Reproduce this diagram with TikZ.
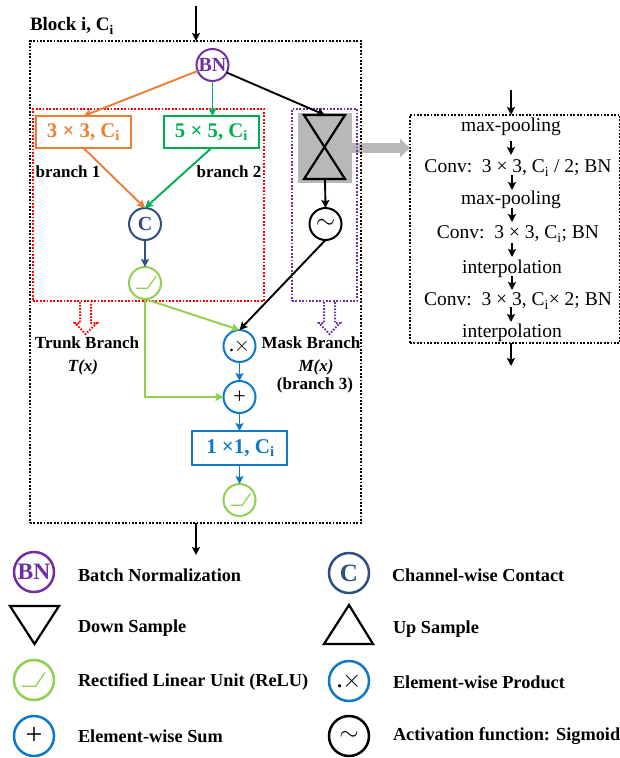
\documentclass[tikz,border=0pt]{standalone}
\usepackage{fontspec}
\setmainfont{Liberation Serif}
\usetikzlibrary{arrows.meta}
\definecolor{cOrange}{HTML}{ED7D31}
\definecolor{cGreen}{HTML}{00B050}
\definecolor{cPurple}{HTML}{7030A0}
\definecolor{cNavy}{HTML}{2F5080}
\definecolor{cLime}{HTML}{8FD04F}
\definecolor{cBlue}{HTML}{0F78C8}
\definecolor{cGray}{HTML}{B8B8B8}
\newcommand{\fs}[1]{\fontsize{#1}{#1}\selectfont}
\newcommand{\Ci}{C\textsubscript{i}}
\tikzset{
  x=1pt,y=-1pt,
  every node/.style={inner sep=0pt,outer sep=0pt},
  ar/.style={-{Stealth[length=8pt,width=8pt,inset=1.5pt]},line width=1.9pt},
  dotbox/.style={draw,line width=2.2pt,dash pattern=on 1.8pt off 1.6pt},
  circ/.style={circle,draw=#1,line width=2pt,minimum size=32pt,text=#1},
  lcirc/.style={circle,draw=#1,line width=2.5pt,minimum size=40pt,text=#1},
  kbox/.style={draw=#1,text=#1,line width=2pt,minimum width=95pt,minimum height=32pt,font=\bfseries\fs{20.8}},
  lab/.style={font=\bfseries\fs{17}},
  leg/.style={font=\bfseries\fs{18.3},anchor=west},
  cnv/.style={font=\fs{19.5}},
  tri/.style={draw=black,line width=2.2pt,line join=miter},
  hollow/.style={draw=#1,line width=2pt,dash pattern=on 1.6pt off 1.5pt}
}
\begin{document}
\begin{tikzpicture}
\useasboundingbox (0,0) rectangle (620,758);
% grey backing and big arrow
\node[fill=cGray,minimum width=54pt,minimum height=70pt] (grey) at (325,148) {};
\node[dotbox,draw=black,minimum width=210pt,minimum height=228pt] (rb) at (515,229) {};
\draw[cGray,line width=10pt,-{Triangle[length=10pt,width=18pt]}] (grey.east) -- (grey.east -| rb.west);
% frames
\node[dotbox,draw=black,minimum width=331pt,minimum height=482pt] (outer) at (195.5,282) {};
\node[dotbox,draw=red,minimum width=231pt,minimum height=192pt] (trunk) at (148.5,205) {};
\node[dotbox,draw=cPurple,line width=1.7pt,minimum width=65pt,minimum height=192pt] (mask) at (324.5,205) {};
% hourglass
\coordinate (hgT) at (325,115);
\coordinate (hgB) at (325,179);
\draw[tri] (304,115) -- (345,115) -- (304,179) -- (345,179) -- cycle;
% nodes
\node[circ=cPurple,font=\bfseries\fs{20}] (bn) at (212.5,65) {BN};
\node[kbox=cOrange] (k3) at (83.5,132) {3 × 3, \Ci};
\node[kbox=cGreen] (k5) at (211.5,132) {5 × 5, \Ci};
\node[circ=cNavy,font=\bfseries\fs{20}] (cc) at (145,224) {C};
\node[circ=cLime] (r1) at (145,283) {};
\node[circ=black,font=\fs{24}] (sg) at (325.5,224) {$\sim$};
\node[circ=cBlue,text=black,font=\fs{22}] (pr) at (239.5,346) {.\kern-0.5pt$\times$};
\node[circ=cBlue,text=black,font=\fs{22}] (su) at (239.5,397) {+};
\node[kbox=cBlue,minimum height=34pt,font=\bfseries\fs{21}] (k1) at (239.5,448) {\kern2pt 1 ×1, \Ci};
\node[circ=cLime] (r2) at (239.5,500) {};
\draw[cLime,line width=1.2pt] ([shift={(-9,5.3)}]r1.center) -- ([shift={(2.7,5.3)}]r1.center) -- ([shift={(11,-6.7)}]r1.center);
\draw[cLime,line width=1.2pt] ([shift={(-9,5.3)}]r2.center) -- ([shift={(2.7,5.3)}]r2.center) -- ([shift={(11,-6.7)}]r2.center);
% connectors
\coordinate (in) at (196,6);
\coordinate (out) at (196,555);
\draw[ar,black] (in) -- (outer.north -| in);
\draw[ar,black] (outer.south -| out) -- (out);
\draw[ar,cOrange] (bn.202) -- (k3.north);
\draw[ar,cGreen] (bn.south) -- (bn.south |- k5.north);
\draw[ar,black] (bn.-28) -- (hgT);
\draw[ar,cOrange] (k3.south) -- (cc.north);
\draw[ar,cGreen] (k5.south) -- (cc.north);
\draw[ar,cNavy] (cc.south) -- (r1.north);
\draw[ar,black] (hgB) -- (sg.north);
\draw[ar,black] (sg.south) -- (pr.north);
\draw[ar,cLime] (r1.south) -- (pr.north);
\draw[ar,cLime] (r1.south) |- (su.west);
\draw[ar,cBlue] (pr.south) -- (su.north);
\draw[ar,cBlue] (su.south) -- (k1.north);
\draw[ar,cBlue] (k1.south) -- (r2.north);
% hollow arrows
\draw[hollow=red] (80,302) -- (80,323) -- (75,323) -- (85.5,334) -- (97,323) -- (91,323) -- (91,302);
\draw[hollow=cPurple] (324,302) -- (324,323) -- (319,323) -- (329.5,334) -- (340,323) -- (335,323) -- (335,302);
% labels
\node[font=\bfseries\fs{19},anchor=west] (blk) at (30,26) {Block i, \Ci};
\node[lab] (b1) at (68,172) {branch 1};
\node[lab] (b2) at (229,172) {branch 2};
\node[lab] (tb) at (87,343) {Trunk Branch};
\node[lab,font=\bfseries\itshape\fs{17}] (tx) at (83,367) {T(x)};
\node[lab] (mb) at (311,343) {Mask Branch};
\node[lab,font=\bfseries\itshape\fs{17}] (mx) at (316,367) {M(x)};
\node[lab] (b3) at (315,385) {(branch 3)};
% right panel
\node[cnv] (t1) at (511,127) {max-pooling};
\node[cnv] (t2) at (518,168) {Conv:\, 3 × 3, \Ci{} / 2; BN};
\node[cnv] (t3) at (511,200) {max-pooling};
\node[cnv] (t4) at (518,234) {Conv:\, 3 × 3, \Ci; BN};
\node[cnv] (t5) at (512,269) {interpolation};
\node[cnv] (t6) at (518,301) {Conv:\, 3 × 3, \Ci× 2; BN};
\node[cnv] (t7) at (512,333) {interpolation};
\coordinate (a0) at (511,90);
\coordinate (a8) at (511,366);
\coordinate (s1) at (511,141); \coordinate (e1) at (511,155);
\coordinate (s2) at (512,175); \coordinate (e2) at (512,190);
\coordinate (s3) at (512,208); \coordinate (e3) at (512,222);
\coordinate (s4) at (512,243); \coordinate (e4) at (512,257);
\coordinate (s5) at (512,276); \coordinate (e5) at (512,290);
\coordinate (s6) at (511,307); \coordinate (e6) at (511,322);
\draw[ar] (a0) -- (rb.north -| a0);
\draw[ar] (s1) -- (e1);
\draw[ar] (s2) -- (e2);
\draw[ar] (s3) -- (e3);
\draw[ar] (s4) -- (e4);
\draw[ar] (s5) -- (e5);
\draw[ar] (s6) -- (e6);
\draw[ar] (rb.south -| a8) -- (a8);
% legend
\node[lcirc=cPurple,font=\bfseries\fs{23.5}] (lbn) at (34,572) {BN};
\node[leg] (l1) at (78,575) {Batch Normalization};
\draw[tri] (10,606) -- (59,606) -- (34.5,644) -- cycle;
\node[leg] (l2) at (78,628) {Down Sample};
\node[lcirc=cLime] (lr) at (34,680) {};
\draw[cLime,line width=1.3pt] ([shift={(-12,6.3)}]lr.center) -- ([shift={(1.7,6.3)}]lr.center) -- ([shift={(11,-7.7)}]lr.center);
\node[leg] (l3) at (78,682) {Rectified Linear Unit (ReLU)};
\node[lcirc=cBlue,text=black,font=\fs{30}] (ls) at (34,736) {+};
\node[leg] (l4) at (78,736) {Element-wise Sum};
\node[lcirc=cNavy,font=\bfseries\fs{25}] (lc) at (349,573) {C};
\node[leg] (r1t) at (392,575) {Channel-wise Contact};
\draw[tri] (324,644) -- (373,644) -- (349,605) -- cycle;
\node[leg] (r2t) at (393,629) {Up Sample};
\node[lcirc=cBlue,text=black,font=\fs{27}] (lp) at (349,681) {.\kern-1pt$\times$};
\node[leg] (r3t) at (393,682) {Element-wise Product};
\node[lcirc=black,font=\fs{27}] (lg) at (349,736) {$\sim$};
\node[leg] (r4t) at (393,736) {Activation function: Sigmoid};
\end{tikzpicture}
\end{document}
